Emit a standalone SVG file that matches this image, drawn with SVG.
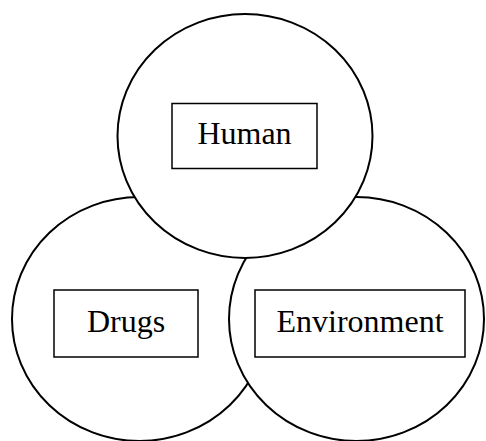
<svg xmlns="http://www.w3.org/2000/svg" width="486" height="441" viewBox="0 0 486 441">
<style>
.c{fill:#fff;stroke:#000;stroke-width:2}
.b{fill:#fff;stroke:#000;stroke-width:1.5}
.t{font-family:"Liberation Serif","Times New Roman",serif;font-size:32px;fill:#000;text-anchor:middle}
</style>
<rect width="486" height="441" fill="#fff"/>
<g id="drugs">
<ellipse class="c" cx="139.5" cy="319" rx="127.5" ry="122"/>
<rect class="b" x="54" y="290" width="144" height="67"/>
<text class="t" x="126" y="331.5">Drugs</text>
</g>
<g id="environment">
<ellipse class="c" cx="356.5" cy="319" rx="127.5" ry="122"/>
<rect class="b" x="255" y="290" width="210" height="67"/>
<text class="t" x="360" y="331.5">Environment</text>
</g>
<g id="human">
<ellipse class="c" cx="245" cy="136" rx="127.5" ry="122"/>
<rect class="b" x="172" y="103.5" width="145" height="65"/>
<text class="t" x="244.5" y="144">Human</text>
</g>
<g id="connectors"></g>
</svg>
